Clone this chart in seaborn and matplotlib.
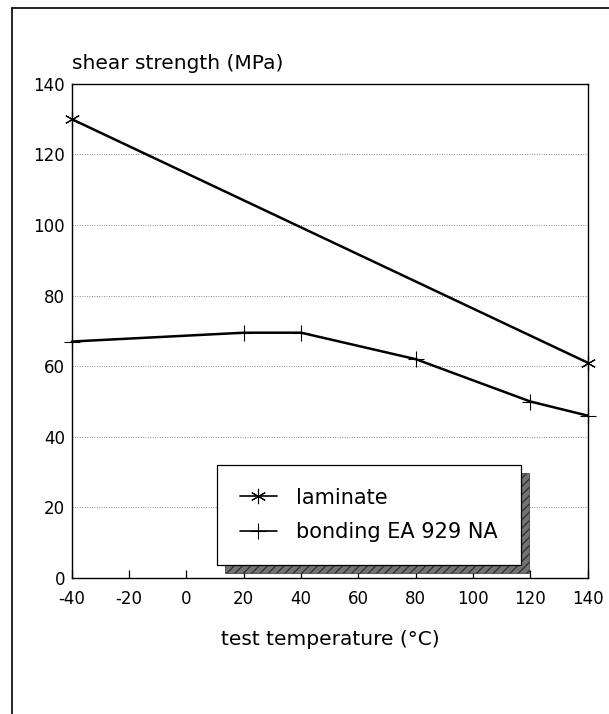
import numpy as np
import pandas as pd
import matplotlib
matplotlib.use("Agg")
import matplotlib.pyplot as plt
import seaborn as sns
from matplotlib.lines import Line2D
from matplotlib.patches import Rectangle

# ===== data =====
lam_temp = [-40, 140]
lam_strength = [130, 61]

bond_temp = [-40, 20, 40, 80, 120, 140]
bond_strength = [67, 69.5, 69.5, 62, 50, 46]

x_ticks = [-40, -20, 0, 20, 40, 60, 80, 100, 120, 140]
y_ticks = [0, 20, 40, 60, 80, 100, 120, 140]

lam = pd.DataFrame({"temp": lam_temp, "strength": lam_strength})
bond = pd.DataFrame({"temp": bond_temp, "strength": bond_strength})

sns.set_style("white")
plt.rcParams["font.family"] = ["DejaVu Sans"]
plt.rcParams["axes.unicode_minus"] = False
plt.rcParams["text.color"] = "black"
plt.rcParams["xtick.color"] = "black"
plt.rcParams["ytick.color"] = "black"

fig = plt.figure(figsize=(6.09, 7.14), dpi=100)
ax = fig.add_axes([0.118, 0.1905, 0.847, 0.692])

# gridlines (horizontal, dotted)
for yv in y_ticks[1:-1]:
    ax.axhline(yv, color="0.55", lw=0.7, ls=(0, (1, 1.5)), zorder=1)

sns.lineplot(data=lam, x="temp", y="strength", ax=ax, color="black", lw=1.8,
             marker=(6, 2, 0), markersize=11, markeredgewidth=0.8,
             markeredgecolor="black", clip_on=False, zorder=3, label="laminate")
sns.lineplot(data=bond, x="temp", y="strength", ax=ax, color="black", lw=1.8,
             marker="+", markersize=12, markeredgewidth=0.8,
             markeredgecolor="black", clip_on=False, zorder=3,
             label="bonding EA 929 NA")

ax.set_xlim(-40, 140)
ax.set_ylim(0, 140)
ax.set_xticks(x_ticks)
ax.set_yticks(y_ticks)
ax.tick_params(axis="x", direction="in", length=6, width=0.9, pad=9,
               labelsize=12, bottom=True, top=False)
ax.tick_params(axis="y", length=0, pad=5, labelsize=12)
for s in ax.spines.values():
    s.set_color("black")
    s.set_linewidth(1.0)
ax.set_xlabel("")
ax.set_ylabel("")

fig.text(0.118, 0.898, "shear strength (MPa)", fontsize=14.5, ha="left", va="bottom")
fig.text(0.542, 0.104, "test temperature (\u00b0C)", fontsize=14.5, ha="center", va="center")

leg = ax.legend(loc="upper left", bbox_to_anchor=(0.281, 0.229), borderaxespad=0,
                frameon=True, fancybox=False, edgecolor="black", framealpha=1,
                fontsize=15, handlelength=1.8, handletextpad=0.9,
                labelspacing=0.7, borderpad=1.1)
leg.get_frame().set_linewidth(0.9)
leg.set_zorder(6)
for line in leg.get_lines():
    line.set_linewidth(1.2)

# shadow behind the legend box
fig.canvas.draw()
bb = leg.get_window_extent()
inv = ax.transAxes.inverted()
(x0, y0) = inv.transform((bb.x0 + 8, bb.y0 - 8))
(x1, y1) = inv.transform((bb.x1 + 8, bb.y1 - 8))
ax.add_patch(Rectangle((x0, y0), x1 - x0, y1 - y0, transform=ax.transAxes,
                       facecolor="0.45", edgecolor="0.2", hatch="////",
                       lw=0.5, clip_on=False, zorder=5.5))

# outer frame of the scanned page
fig.add_artist(Line2D([12 / 609, 12 / 609], [0, 1 - 8 / 714], color="black", lw=1.2))
fig.add_artist(Line2D([12 / 609, 1], [1 - 8 / 714, 1 - 8 / 714], color="black", lw=1.2))

fig.savefig("out.png", dpi=100)
